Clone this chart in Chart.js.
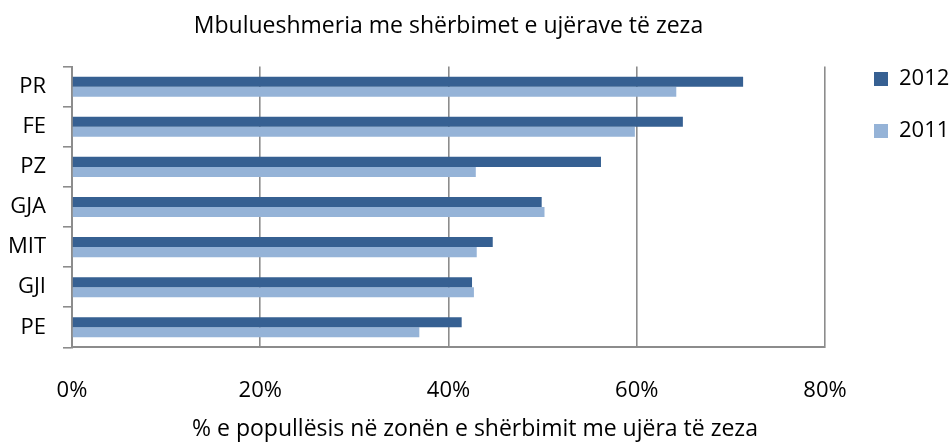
<!DOCTYPE html>
<html lang="sq">
    <head>
        <meta charset="UTF-8">
        <title>Mbulueshmeria me shërbimet e ujërave të zeza</title>
        <style>
            html, body { margin: 0; padding: 0; background: #fff; }
            #wrap { width: 950px; height: 443px; }
        </style>
    </head>
    <body>
        <div id="wrap">
            <canvas id="myChart" width="950" height="443"></canvas>
        </div>

<script src="https://cdn.jsdelivr.net/npm/chart.js"></script>

<script>
    // data
    var categories = ["PR", "FE", "PZ", "GJA", "MIT", "GJI", "PE"];
    var values_2012 = [71.3, 64.9, 56.2, 49.9, 44.7, 42.5, 41.4];
    var values_2011 = [64.2, 59.8, 42.9, 50.2, 43.0, 42.7, 36.9];
    var x_ticks = [0, 20, 40, 60, 80];

    var font_name = "'Open Sans', sans-serif";
    var grid_gray = "#8c8c8c";

    new Chart("myChart", {
        type: "bar",
        data: {
            labels: categories,
            datasets: [{
                label: "2012",
                backgroundColor: "#366092",
                data: values_2012
            }, {
                label: "2011",
                backgroundColor: "#95b3d7",
                data: values_2011
            }]
        },
        options: {
            indexAxis: "y",
            responsive: false,
            animation: false,
            layout: {
                padding: 0
            },
            datasets: {
                bar: { categoryPercentage: 0.5, barPercentage: 1.0 }
            },
            scales: {
                x: {
                    min: x_ticks[0],
                    max: x_ticks[x_ticks.length - 1],
                    afterBuildTicks: function(axis) {
                        axis.ticks = x_ticks.map(function(v) { return { value: v }; });
                    },
                    afterFit: function(axis) { axis.height = 68; },
                    ticks: {
                        color: "#000",
                        padding: 30,
                        font: { family: font_name, size: 22 },
                        callback: function(v) { return v + "%"; }
                    },
                    grid: { color: grid_gray, lineWidth: 1.6, drawTicks: false },
                    border: { color: grid_gray, width: 2 }
                },
                y: {
                    afterFit: function(axis) { axis.width = 72; },
                    ticks: {
                        color: "#000",
                        padding: 17,
                        font: { family: font_name, size: 22 }
                    },
                    grid: { drawOnChartArea: false, color: grid_gray, lineWidth: 1.6, tickLength: 9, offset: true },
                    border: { color: grid_gray, width: 2 }
                },
                // empty gap between the plot and the legend
                y_gap: {
                    type: "linear",
                    axis: "y",
                    position: "right",
                    afterFit: function(axis) { axis.width = 19; },
                    ticks: { display: false },
                    grid: { display: false, drawTicks: false },
                    border: { display: false }
                }
            },
            plugins: {
                title: {
                    display: true,
                    fullSize: false,
                    text: "Mbulueshmeria me shërbimet e ujërave të zeza",
                    color: "#000",
                    font: { family: font_name, size: 23, weight: "normal" },
                    padding: { top: 13, bottom: 26 }
                },
                subtitle: {
                    display: true,
                    position: "bottom",
                    text: "% e popullësis në zonën e shërbimit me ujëra të zeza",
                    color: "#000",
                    font: { family: font_name, size: 23 },
                    padding: { top: 0, bottom: 0 }
                },
                legend: {
                    position: "right",
                    align: "start",
                    maxWidth: 106,
                    title: {
                        display: true,
                        text: " ",
                        font: { size: 10 },
                        padding: 13
                    },
                    labels: {
                        color: "#000",
                        boxWidth: 14,
                        boxHeight: 14,
                        padding: 30,
                        font: { family: font_name, size: 22 }
                    }
                },
                tooltip: { enabled: false }
            }
        }
    });
</script>
    </body>
</html>
